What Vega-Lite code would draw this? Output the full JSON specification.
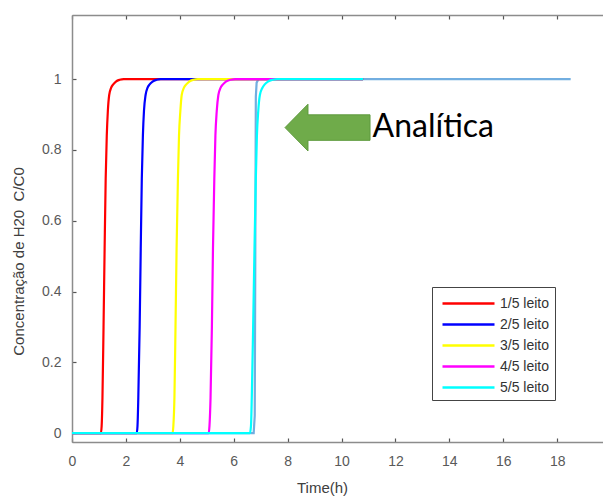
{
  "$schema": "https://vega.github.io/schema/vega-lite/v6.json",
  "autosize": {"type": "none"},
  "padding": {"left": 72, "top": 15, "right": 0, "bottom": 56},
  "width": 531,
  "height": 427,
  "background": "white",
  "config": {
    "view": {"stroke": null},
    "font": "Liberation Sans"
  },
  "resolve": {"axis": {"x": "independent", "y": "independent"}},
  "datasets": {
    "curves": [
      {"s": "1/5 leito", "t": 0, "c": 0}, {"s": "1/5 leito", "t": 1.07, "c": 0}, {"s": "1/5 leito", "t": 1.10, "c": 0.02}, {"s": "1/5 leito", "t": 1.13, "c": 0.1}, {"s": "1/5 leito", "t": 1.17, "c": 0.3}, {"s": "1/5 leito", "t": 1.21, "c": 0.52}, {"s": "1/5 leito", "t": 1.25, "c": 0.72}, {"s": "1/5 leito", "t": 1.29, "c": 0.84}, {"s": "1/5 leito", "t": 1.33, "c": 0.91}, {"s": "1/5 leito", "t": 1.38, "c": 0.955}, {"s": "1/5 leito", "t": 1.45, "c": 0.975}, {"s": "1/5 leito", "t": 1.53, "c": 0.985}, {"s": "1/5 leito", "t": 1.63, "c": 0.993}, {"s": "1/5 leito", "t": 1.77, "c": 0.998}, {"s": "1/5 leito", "t": 1.92, "c": 1}, {"s": "1/5 leito", "t": 10.8, "c": 1},
      {"s": "2/5 leito", "t": 0, "c": 0}, {"s": "2/5 leito", "t": 2.40, "c": 0}, {"s": "2/5 leito", "t": 2.43, "c": 0.02}, {"s": "2/5 leito", "t": 2.46, "c": 0.1}, {"s": "2/5 leito", "t": 2.51, "c": 0.3}, {"s": "2/5 leito", "t": 2.55, "c": 0.52}, {"s": "2/5 leito", "t": 2.59, "c": 0.72}, {"s": "2/5 leito", "t": 2.63, "c": 0.84}, {"s": "2/5 leito", "t": 2.67, "c": 0.91}, {"s": "2/5 leito", "t": 2.73, "c": 0.955}, {"s": "2/5 leito", "t": 2.80, "c": 0.975}, {"s": "2/5 leito", "t": 2.88, "c": 0.985}, {"s": "2/5 leito", "t": 2.99, "c": 0.993}, {"s": "2/5 leito", "t": 3.14, "c": 0.998}, {"s": "2/5 leito", "t": 3.29, "c": 1}, {"s": "2/5 leito", "t": 10.8, "c": 1},
      {"s": "3/5 leito", "t": 0, "c": 0}, {"s": "3/5 leito", "t": 3.73, "c": 0}, {"s": "3/5 leito", "t": 3.76, "c": 0.02}, {"s": "3/5 leito", "t": 3.80, "c": 0.1}, {"s": "3/5 leito", "t": 3.84, "c": 0.3}, {"s": "3/5 leito", "t": 3.88, "c": 0.52}, {"s": "3/5 leito", "t": 3.93, "c": 0.72}, {"s": "3/5 leito", "t": 3.97, "c": 0.84}, {"s": "3/5 leito", "t": 4.02, "c": 0.91}, {"s": "3/5 leito", "t": 4.07, "c": 0.955}, {"s": "3/5 leito", "t": 4.15, "c": 0.975}, {"s": "3/5 leito", "t": 4.24, "c": 0.985}, {"s": "3/5 leito", "t": 4.35, "c": 0.993}, {"s": "3/5 leito", "t": 4.50, "c": 0.998}, {"s": "3/5 leito", "t": 4.67, "c": 1}, {"s": "3/5 leito", "t": 10.8, "c": 1},
      {"s": "4/5 leito", "t": 0, "c": 0}, {"s": "4/5 leito", "t": 5.07, "c": 0}, {"s": "4/5 leito", "t": 5.10, "c": 0.02}, {"s": "4/5 leito", "t": 5.14, "c": 0.1}, {"s": "4/5 leito", "t": 5.19, "c": 0.3}, {"s": "4/5 leito", "t": 5.23, "c": 0.52}, {"s": "4/5 leito", "t": 5.28, "c": 0.72}, {"s": "4/5 leito", "t": 5.32, "c": 0.84}, {"s": "4/5 leito", "t": 5.37, "c": 0.91}, {"s": "4/5 leito", "t": 5.43, "c": 0.955}, {"s": "4/5 leito", "t": 5.51, "c": 0.975}, {"s": "4/5 leito", "t": 5.60, "c": 0.985}, {"s": "4/5 leito", "t": 5.71, "c": 0.993}, {"s": "4/5 leito", "t": 5.88, "c": 0.998}, {"s": "4/5 leito", "t": 6.05, "c": 1}, {"s": "4/5 leito", "t": 10.8, "c": 1},
      {"s": "5/5 leito", "t": 0, "c": 0}, {"s": "5/5 leito", "t": 6.60, "c": 0}, {"s": "5/5 leito", "t": 6.64, "c": 0.02}, {"s": "5/5 leito", "t": 6.67, "c": 0.1}, {"s": "5/5 leito", "t": 6.72, "c": 0.3}, {"s": "5/5 leito", "t": 6.77, "c": 0.52}, {"s": "5/5 leito", "t": 6.82, "c": 0.72}, {"s": "5/5 leito", "t": 6.86, "c": 0.84}, {"s": "5/5 leito", "t": 6.91, "c": 0.91}, {"s": "5/5 leito", "t": 6.97, "c": 0.955}, {"s": "5/5 leito", "t": 7.06, "c": 0.975}, {"s": "5/5 leito", "t": 7.15, "c": 0.985}, {"s": "5/5 leito", "t": 7.27, "c": 0.993}, {"s": "5/5 leito", "t": 7.44, "c": 0.998}, {"s": "5/5 leito", "t": 7.62, "c": 1}, {"s": "5/5 leito", "t": 10.8, "c": 1}
    ],
    "analytic": [
      {"t": 0, "c": 0}, {"t": 6.74, "c": 0}, {"t": 6.78, "c": 0.05}, {"t": 6.80, "c": 0.5}, {"t": 6.82, "c": 0.95}, {"t": 6.85, "c": 0.99}, {"t": 6.92, "c": 1}, {"t": 18.5, "c": 1}
    ]
  },
  "layer": [
    {
      "data": {"name": "analytic"},
      "mark": {"type": "line", "color": "#72aee0", "strokeWidth": 2.2},
      "encoding": {
        "x": {"field": "t", "type": "quantitative", "scale": {"domain": [0, 19.7], "nice": false, "zero": false},
          "axis": {"orient": "bottom", "values": [0, 2, 4, 6, 8, 10, 12, 14, 16, 18], "grid": false, "labelFlush": false,
            "domainColor": "#8c8c8c", "domainWidth": 1.5, "tickColor": "#555", "tickSize": -4, "tickWidth": 1.2,
            "labelFont": "Liberation Sans", "labelFontSize": 14, "labelColor": "#595959", "labelPadding": 16,
            "title": "Time(h)", "titleFont": "Liberation Sans", "titleFontSize": 15, "titleFontWeight": "normal", "titleColor": "#404040",
            "titleX": 250, "titleY": 45, "titleBaseline": "middle", "titleAnchor": null, "titleAlign": "center"}},
        "y": {"field": "c", "type": "quantitative", "scale": {"domain": [-0.025, 1.181], "nice": false, "zero": false},
          "axis": {"orient": "left", "values": [0, 0.2, 0.4, 0.6, 0.8, 1], "grid": false, "labelFlush": false,
            "labelExpr": "datum.value == 0 ? '0' : datum.value == 1 ? '1' : format(datum.value, '.1f')",
            "domainColor": "#8c8c8c", "domainWidth": 1.5, "tickColor": "#555", "tickSize": -4, "tickWidth": 1.2,
            "labelFont": "Liberation Sans", "labelFontSize": 14, "labelColor": "#595959", "labelPadding": 15,
            "title": "Concentração de H20\u00a0 C/C0", "titleFont": "Liberation Sans", "titleFontSize": 15, "titleFontWeight": "normal", "titleColor": "#404040",
            "titleX": -54, "titleY": 246, "titleAngle": -90, "titleBaseline": "middle", "titleAlign": "center", "titleAnchor": null}}
      }
    },
    {
      "data": {"name": "curves"},
      "mark": {"type": "line", "strokeWidth": 2.2, "interpolate": "monotone"},
      "encoding": {
        "x": {"field": "t", "type": "quantitative", "axis": null},
        "y": {"field": "c", "type": "quantitative", "axis": null},
        "color": {"field": "s", "type": "nominal",
          "scale": {"domain": ["1/5 leito", "2/5 leito", "3/5 leito", "4/5 leito", "5/5 leito"], "range": ["#ff0000", "#0000ff", "#ffff00", "#ff00ff", "#00ffff"]},
          "legend": {"orient": "none", "legendX": 360, "legendY": 272, "title": null,
            "symbolType": "M-2.6,0L2.6,0", "symbolSize": 400, "symbolStrokeWidth": 2.5,
            "symbolOffset": 20, "labelOffset": 20,
            "strokeColor": "#444", "fillColor": "white", "padding": 5, "rowPadding": 2,
            "labelFont": "Liberation Sans", "labelFontSize": 14, "labelColor": "#333"}}
      }
    },
    {
      "data": {"values": [{"k": "arrow"}]},
      "mark": {"type": "point", "shape": "M-1,0L-0.46,-0.55L-0.46,-0.3L1,-0.3L1,0.3L-0.46,0.3L-0.46,0.55Z", "size": 7225, "filled": true, "fill": "#6fab4a", "stroke": "#5e9a3e", "strokeWidth": 1, "opacity": 1},
      "encoding": {
        "x": {"datum": 9.48, "type": "quantitative",
          "axis": {"orient": "top", "values": [0, 2, 4, 6, 8, 10, 12, 14, 16, 18], "labels": false, "title": null, "grid": false,
            "domainColor": "#8c8c8c", "domainWidth": 1.5, "tickColor": "#555", "tickSize": -4, "tickWidth": 1.2}},
        "y": {"datum": 0.863, "type": "quantitative", "axis": null}
      }
    },
    {
      "data": {"values": [{"label": "Analítica"}]},
      "mark": {"type": "text", "align": "left", "baseline": "middle", "font": "Lato", "fontSize": 32, "color": "#000"},
      "encoding": {
        "x": {"datum": 11.15, "type": "quantitative", "axis": null},
        "y": {"datum": 0.864, "type": "quantitative", "axis": null},
        "text": {"field": "label", "type": "nominal"}
      }
    }
  ]
}
